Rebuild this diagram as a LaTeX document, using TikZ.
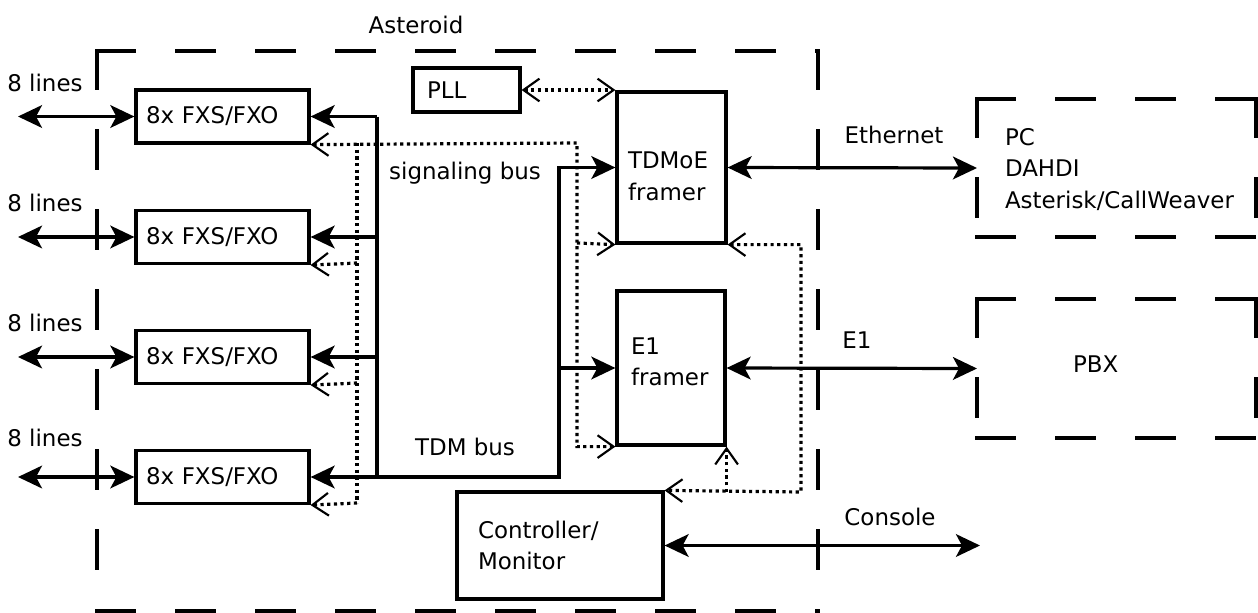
\documentclass[tikz,border=0pt]{standalone}
\usepackage{fontspec}
\setmainfont{DejaVu Sans}
\usetikzlibrary{arrows.meta}
\begin{document}
\begin{tikzpicture}[x=0.75pt,y=-0.75pt,
  every node/.style={font=\fontsize{17.2}{23.5}\selectfont},
  lw/.style={line width=2.4pt},
  blk/.style={draw, lw, rectangle, align=left},
  dbx/.style={line width=2.4pt, line cap=rect, dash pattern=on 28pt off 32pt},
  area/.style={rectangle, align=left, outer sep=0pt},
  bus/.style={lw, -{sst}},
  dbl/.style={lw, {sst}-{sst}},
  dot/.style={lw, dash pattern=on 2.4pt off 2.6pt},
  sst/.tip={Stealth[length=18pt,width=17pt,inset=4.5pt]},
  sbarb/.tip={Straight Barb[length=12pt,width=17pt,line width=1.6pt]}
]
\useasboundingbox (0,0) rectangle (1258,612);

% Asteroid enclosure
\draw[dbx] (97,51) -- (818,51);
\draw[dbx] (818,51) -- (818,611);
\draw[dbx] (97,611) -- (818,611);
\draw[dbx] (97,51) -- (97,611);
\node (astl) at (416,25) {Asteroid};

% FXS/FXO blocks
\foreach \i/\y in {1/116.5,2/237,3/357,4/477}{
  \node[blk, minimum width=129.75pt, minimum height=39.75pt, text width=114.75pt, inner xsep=7.5pt] (fxs\i) at (222.5,\y) {8x FXS/FXO};
}
\node (lab1) at (45,83) {8 lines};
\node (lab2) at (45,203) {8 lines};
\node (lab3) at (45,323) {8 lines};
\node (lab4) at (45,438) {8 lines};

\node[blk, minimum width=80.25pt, minimum height=33pt, text width=59.25pt, inner xsep=10.5pt] (pll) at (466.5,90) {PLL};
\node[blk, minimum width=81.75pt, minimum height=113.25pt, text width=65.25pt, inner xsep=8.25pt] (tdmoe) at (671.5,167.5)
  {\raisebox{-8pt}[\height][\depth]{\begin{tabular}{@{}l@{}}TDMoE\\framer\end{tabular}}};
\node[blk, minimum width=81pt, minimum height=115.5pt, text width=60pt, inner xsep=10.5pt] (e1) at (671,368)
  {\raisebox{3pt}[\height][\depth]{\begin{tabular}{@{}l@{}}E1\\framer\end{tabular}}};
\node[blk, minimum width=154.5pt, minimum height=80.25pt, text width=123pt, inner xsep=15.75pt] (ctrl) at (560,545.5) {Controller/\\Monitor};

% external boxes
\node[area, minimum width=209.25pt, minimum height=103.5pt, text width=167.25pt, inner xsep=21pt] (pc) at (1116.5,168)
  {\raisebox{-2pt}[\height][\depth]{\begin{tabular}{@{}l@{}}PC\\DAHDI\\Asterisk/CallWeaver\end{tabular}}};
\node[area, minimum width=209.25pt, minimum height=104.25pt, text width=65.25pt, inner xsep=72pt] (pbx) at (1116.5,368.5)
  {\raisebox{3.5pt}[\height][\depth]{PBX}};
\foreach \b in {pc,pbx}{
  \draw[dbx] (\b.north west) -- (\b.north east);
  \draw[dbx] (\b.north west) -- (\b.south west);
  \draw[dbx] (\b.south west) -- (\b.south east);
  \draw[dbx] (\b.north east) -- (\b.south east);
}

% labels
\node (sigl) at (465,173) {signaling bus};
\node (tdml) at (465,447) {TDM bus};
\node (ethl) at (894,135) {Ethernet};
\node (e1l) at (857,340) {E1};
\node (conl) at (890,517) {Console};

% coordinates
\coordinate (l1) at (18,116.5);
\coordinate (l2) at (18,237);
\coordinate (l3) at (18,357);
\coordinate (l4) at (18,477);
\coordinate (b1) at (377,116.5);
\coordinate (b2) at (377,237);
\coordinate (b3) at (377,357);
\coordinate (b4) at (377,477);
\coordinate (c4) at (559,477);
\coordinate (c3) at (559,368);
\coordinate (s1) at (357,143);
\coordinate (s2) at (357,263);
\coordinate (s3) at (357,383);
\coordinate (s4) at (357,503);
\coordinate (sg) at (577,143);
\coordinate (sgt) at (577,243);
\coordinate (rc) at (801,492);
\coordinate (con) at (980,545.5);

% lines
\foreach \i in {1,2,3,4}{
  \draw[dbl] (l\i) -- (fxs\i.west);
  \draw[bus] (b\i) -- (fxs\i.east);
}
\draw[lw] (b1) -- (b4);
\draw[bus] (b4) -- (c4) |- (tdmoe.west);
\draw[bus] (c3) -- (e1.west);

% signaling (dotted)
\draw[dot] (s1) -- (s4);
\draw[dot, {sbarb}-{sbarb}] (fxs1.south east) -- (sg) |- (e1.south west);
\draw[dot, -{sbarb}] (sgt) -- (tdmoe.south west);
\draw[dot, -{sbarb}] (s2) -- (fxs2.south east);
\draw[dot, -{sbarb}] (s3) -- (fxs3.south east);
\draw[dot, -{sbarb}] (s4) -- (fxs4.south east);
\draw[dot, {sbarb}-{sbarb}] (pll.east) -- (pll.east -| tdmoe.west);
\draw[dot, {sbarb}-{sbarb}] (tdmoe.south east) -| (rc) -- (ctrl.north east);
\draw[dot, -{sbarb}] (e1.south east |- rc) -- (e1.south east);

% external links
\draw[dbl] (tdmoe.east) -- (pc.west);
\draw[dbl] (e1.east) -- (pbx.west);
\draw[dbl] (ctrl.east) -- (con);
\end{tikzpicture}
\end{document}
